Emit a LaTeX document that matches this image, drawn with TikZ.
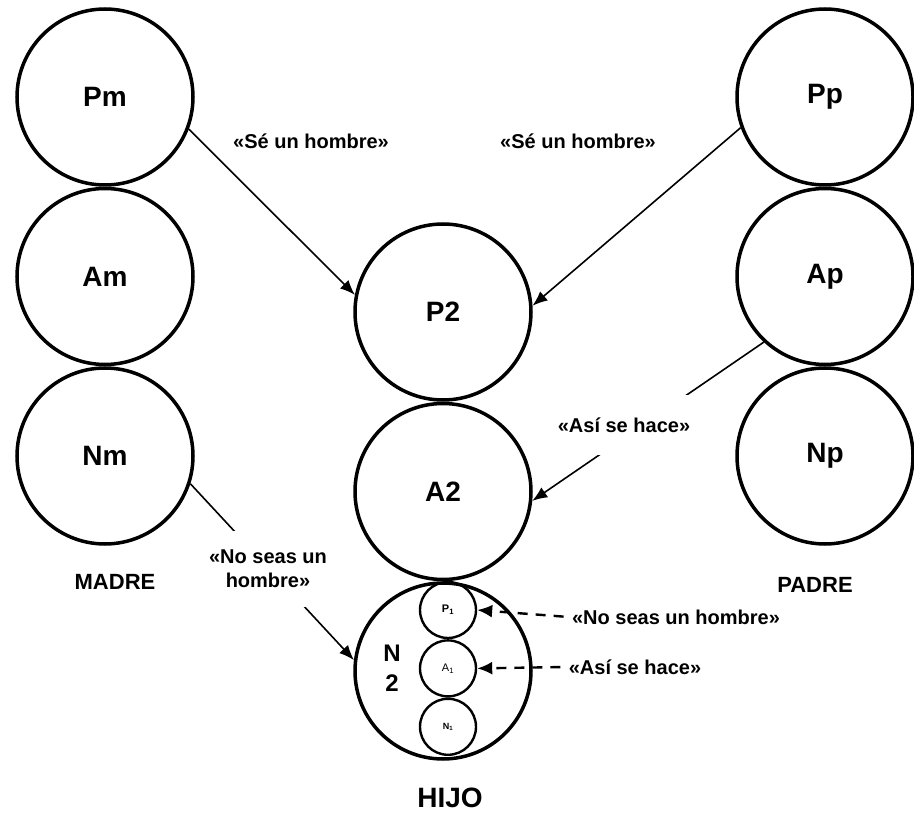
\documentclass[tikz,border=0pt]{standalone}
\usepackage{fontspec}
\setmainfont{Liberation Sans}
\usetikzlibrary{positioning,arrows.meta}
\tikzset{line/.style={draw, line width=1.6pt, -{Latex[length=15pt,width=12pt]}}}
\tikzset{dline/.style={draw, line width=2.4pt, dash pattern=on 10pt off 8pt, -{Latex[length=15pt,width=13pt]}}}

\begin{document}
\begin{tikzpicture}[x=1pt, y=-1pt, node distance=0pt]
\tikzstyle{big} = [circle, draw, line width=3.5pt, minimum size=176pt, inner sep=0pt, font=\fontsize{28}{30}\selectfont\bfseries]
\tikzstyle{small} = [circle, draw, line width=2.4pt, minimum size=56pt, inner sep=0pt, font=\fontsize{11}{12}\selectfont\bfseries]
\tikzstyle{say} = [font=\fontsize{20}{24}\selectfont\bfseries, align=center]
\tikzstyle{who} = [font=\fontsize{22}{26}\selectfont\bfseries]

\useasboundingbox (0,0) rectangle (914,813);

% madre
\node [big](pm) at (105,97){Pm};
\node [big, below=of pm](am){Am};
\node [big, below=of am](nm){Nm};
\node [who](madre) at (115,582){MADRE};

% padre
\node [big](pp) at (825,97){Pp};
\node [big, below=of pp](ap){Ap};
\node [big, below=of ap](np){Np};
\node [who](padre) at (815,585){PADRE};

% hijo
\node [big](p2) at (443,312){P2};
\node [big, below=of p2](a2){A2};
\node [big, below=of a2](n2){};
\node [small](p1) at (448,610){P\textsubscript{1}};
\node [small, below=of p1, font=\fontsize{11}{12}\selectfont](a1){A\textsubscript{1}};
\node [small, below=of a1, font=\fontsize{9}{10}\selectfont\bfseries](n1){N\textsubscript{1}};
\node [who, font=\fontsize{24}{30}\selectfont\bfseries, align=center](n2txt) at (392,668){N\\2};
\node [who, font=\fontsize{28}{30}\selectfont\bfseries](hijo) at (450,798){HIJO};

% flechas
\draw [line] (pm.-21) -- (p2.169);
\draw [line] (pp.200) -- (p2.4);
\draw [line] (ap.227) -- (a2.-6);
\draw [line] (nm.-18) -- (n2.173);

% mensajes
\node [say](se1) at (311,141){«Sé un hombre»};
\node [say](se2) at (578,141){«Sé un hombre»};
\node [say, fill=white, minimum height=60pt, minimum width=150pt](asi1) at (624,425){«Así se hace»};
\node [say, fill=white, minimum height=76pt](nosea1) at (268,569){«No seas un\\hombre»};
\node [say](nosea2) at (676,617){«No seas un hombre»};
\node [say](asi2) at (635,667){«Así se hace»};

\draw [dline, shorten <=5pt] (nosea2.west) -- (p1.east);
\draw [dline, shorten <=5pt] (asi2.west) -- (a1.east);

\end{tikzpicture}
\end{document}
